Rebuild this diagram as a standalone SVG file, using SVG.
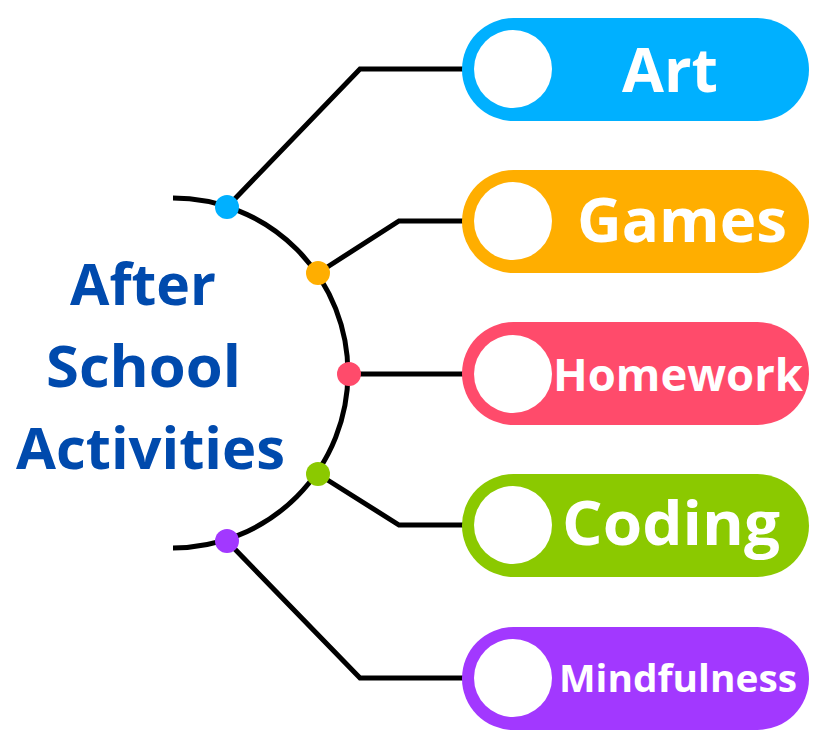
<svg xmlns="http://www.w3.org/2000/svg" width="827" height="731" viewBox="0 0 827 731">
<style>
.wire{fill:none;stroke:#000;stroke-width:5;stroke-linejoin:miter;stroke-linecap:butt}
.hole{fill:#fff}
.lbl{font-family:"Open Sans","Liberation Sans",sans-serif;font-weight:700;fill:#fff;text-anchor:middle}
.title{font-family:"Open Sans","Liberation Sans",sans-serif;font-weight:700;fill:#004aad;text-anchor:middle;font-size:58px}
</style>
<rect width="827" height="731" fill="#fff"/>
<g id="connectors">
<path class="wire" d="M173 198 A175 175 0 0 1 173 548" stroke-linecap="round"/>
<polyline class="wire" points="227,207 360,69 463,69"/>
<polyline class="wire" points="318,273 399,221 463,221"/>
<polyline class="wire" points="349,374 463,374"/>
<polyline class="wire" points="318,474 399,525 463,525"/>
<polyline class="wire" points="227,541 360,678 463,678"/>
<circle cx="227" cy="207" r="12" fill="#00b0ff"/>
<circle cx="318" cy="273" r="12" fill="#ffae00"/>
<circle cx="349" cy="374" r="12" fill="#ff4b6b"/>
<circle cx="318" cy="474" r="12" fill="#8bc900"/>
<circle cx="227" cy="541" r="12" fill="#a238ff"/>
</g>
<g id="title">
<text class="title" x="143" y="305" textLength="146" lengthAdjust="spacingAndGlyphs">After</text>
<text class="title" x="143.5" y="387" textLength="195" lengthAdjust="spacingAndGlyphs">School</text>
<text class="title" x="150.5" y="469" textLength="269" lengthAdjust="spacingAndGlyphs">Activities</text>
</g>
<g id="art">
<rect x="462" y="18" width="347" height="103" rx="51.5" fill="#00b0ff"/>
<circle class="hole" cx="513" cy="69" r="39"/>
<text class="lbl" x="670" y="92" font-size="60" textLength="96" lengthAdjust="spacingAndGlyphs">Art</text>
</g>
<g id="games">
<rect x="462" y="170" width="347" height="103" rx="51.5" fill="#ffae00"/>
<circle class="hole" cx="513" cy="221" r="39"/>
<text class="lbl" x="682" y="242" font-size="60" textLength="210" lengthAdjust="spacingAndGlyphs">Games</text>
</g>
<g id="homework">
<rect x="462" y="322" width="347" height="103" rx="51.5" fill="#ff4b6b"/>
<circle class="hole" cx="513" cy="374" r="39"/>
<text class="lbl" x="678" y="391" font-size="44" textLength="250" lengthAdjust="spacingAndGlyphs">Homework</text>
</g>
<g id="coding">
<rect x="462" y="474" width="347" height="103" rx="51.5" fill="#8bc900"/>
<circle class="hole" cx="513" cy="525" r="39"/>
<text class="lbl" x="671" y="545" font-size="60" textLength="218" lengthAdjust="spacingAndGlyphs">Coding</text>
</g>
<g id="mindfulness">
<rect x="462" y="627" width="347" height="103" rx="51.5" fill="#a238ff"/>
<circle class="hole" cx="513" cy="678" r="39"/>
<text class="lbl" x="678" y="692" font-size="38" textLength="238" lengthAdjust="spacingAndGlyphs">Mindfulness</text>
</g>
</svg>
